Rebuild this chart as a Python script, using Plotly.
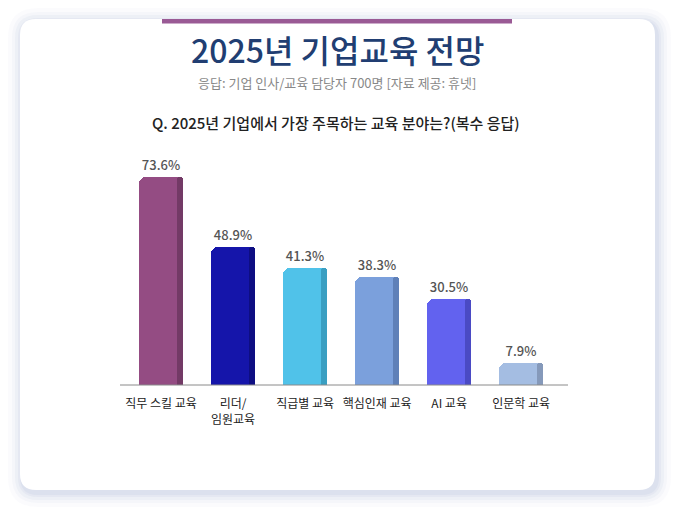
import plotly.graph_objects as go

categories = ["직무 스킬 교육", "리더/<br>임원교육", "직급별 교육", "핵심인재 교육", "AI 교육", "인문학 교육"]
values = [73.6, 48.9, 41.3, 38.3, 30.5, 7.9]
labels = ["73.6%", "48.9%", "41.3%", "38.3%", "30.5%", "7.9%"]
colors = ["#944c83", "#1515aa", "#50c2e9", "#7ba0dc", "#6262ef", "#a4bde2"]
side_colors = ["#733a66", "#0e0e82", "#3a9fc2", "#5f80b8", "#4a4ac4", "#8599ba"]

W, H = 680, 516
L, R, T, B = 120, 568, 150, 385
FONT = "Noto Sans CJK KR"

def px(x):
    return (x - L) / (R - L)

def py(y):
    return (B - y) / (B - T)

def rrect(x0, y0, x1, y1, r):
    pts = (f"M {px(x0 + r)},{py(y0)} L {px(x1 - r)},{py(y0)} "
           f"Q {px(x1)},{py(y0)} {px(x1)},{py(y0 + r)} L {px(x1)},{py(y1 - r)} "
           f"Q {px(x1)},{py(y1)} {px(x1 - r)},{py(y1)} L {px(x0 + r)},{py(y1)} "
           f"Q {px(x0)},{py(y1)} {px(x0)},{py(y1 - r)} L {px(x0)},{py(y0 + r)} "
           f"Q {px(x0)},{py(y0)} {px(x0 + r)},{py(y0)} Z")
    return pts

shapes = []
# soft shadow layers
for d, op in [(14, 0.05), (10, 0.07), (7, 0.09), (4, 0.12), (2, 0.15)]:
    shapes.append(dict(type="path", xref="paper", yref="paper", layer="below",
                       path=rrect(20 - d + 2, 19 - d + 3, 655 + d + 2, 490 + d + 3, 16 + d),
                       fillcolor=f"rgba(170,185,215,{op})", line=dict(width=0)))
shapes.append(dict(type="path", xref="paper", yref="paper", layer="below",
                   path=rrect(20, 19, 655, 490, 16), fillcolor="white", line=dict(width=0)))
# purple top line
shapes.append(dict(type="rect", xref="paper", yref="paper", layer="below",
                   x0=px(162), x1=px(512), y0=py(23.5), y1=py(19),
                   fillcolor="#9a5a95", line=dict(width=0)))
# baseline
shapes.append(dict(type="line", xref="paper", yref="paper", layer="above",
                   x0=0, x1=1, y0=0, y1=0, line=dict(color="#8a8a8a", width=1)))

xs = list(range(len(categories)))
fig = go.Figure()
fig.add_trace(go.Bar(x=xs, y=values, width=0.61, marker=dict(color=colors, cornerradius=7, line=dict(width=0)),
                     text=labels, textposition="outside", cliponaxis=False,
                     textfont=dict(family=FONT, size=13, color="#555555", weight=500), hoverinfo="skip"))
fig.add_trace(go.Bar(x=[x + 0.26 for x in xs], y=values, width=0.09,
                     marker=dict(color=side_colors, cornerradius=4, line=dict(width=0)), hoverinfo="skip"))

annotations = [
    dict(text="2025년 기업교육 전망", xref="paper", yref="paper", x=px(337), y=py(49),
         showarrow=False, font=dict(family=FONT, size=32, color="#213e72", weight=500),
         xanchor="center", yanchor="middle"),
    dict(text="응답: 기업 인사/교육 담당자 700명 [자료 제공: 휴넷]", xref="paper", yref="paper", x=px(337), y=py(82),
         showarrow=False, font=dict(family=FONT, size=13, color="#888888"), xanchor="center", yanchor="middle"),
    dict(text="Q. 2025년 기업에서 가장 주목하는 교육 분야는?(복수 응답)", xref="paper", yref="paper", x=px(336), y=py(122),
         showarrow=False, font=dict(family=FONT, size=15, color="#222222", weight=500),
         xanchor="center", yanchor="middle"),
]

fig.update_layout(
    width=W, height=H, margin=dict(l=L, r=W - R, t=T, b=H - B),
    paper_bgcolor="white", plot_bgcolor="rgba(0,0,0,0)",
    barmode="overlay", bargap=0, showlegend=False,
    shapes=shapes, annotations=annotations,
    font=dict(family=FONT),
)
fig.update_xaxes(range=[-0.57, 5.65], tickmode="array", tickvals=xs, ticktext=categories,
                 showgrid=False, zeroline=False, showline=False, ticks="",
                 tickfont=dict(family=FONT, size=12, color="#222222"), ticklabelstandoff=10)
fig.update_yaxes(range=[0, 83.2], visible=False, showgrid=False, zeroline=False)

fig.write_html("out.html")
